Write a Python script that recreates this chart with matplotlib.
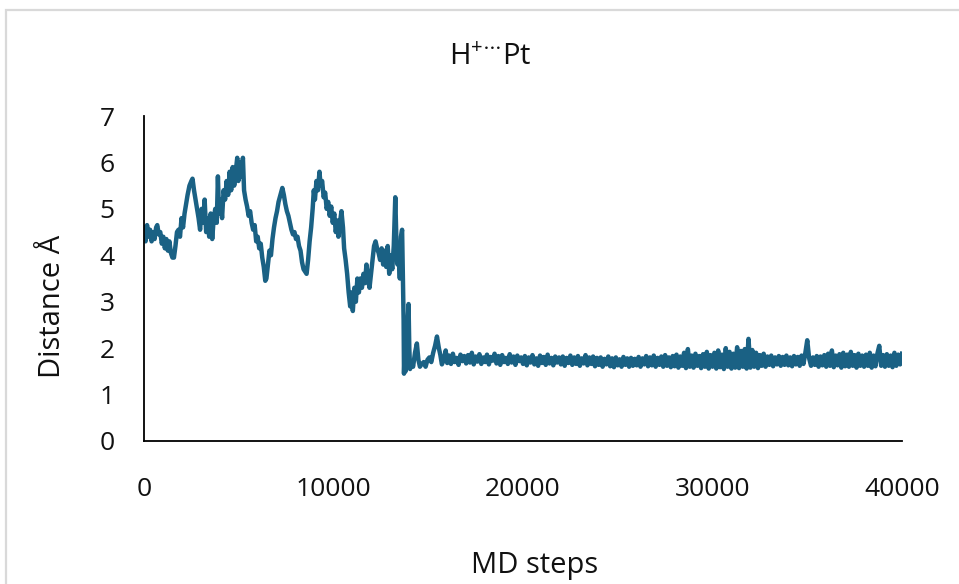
import matplotlib
matplotlib.use("Agg")
import matplotlib.pyplot as plt
from matplotlib.patches import Rectangle

# ---- data (MD step, distance in Å) ----
steps_early = [0, 80, 160, 240, 320, 400, 480, 560, 640, 700, 780, 860, 940, 1020, 1100,
               1180, 1260, 1340, 1420, 1500, 1580, 1660, 1740, 1820, 1900, 1980, 2060, 2140,
               2220, 2300, 2400, 2500, 2560, 2640, 2720, 2800, 2880, 2960, 3040, 3120, 3200,
               3280, 3360, 3440, 3520, 3600, 3680, 3760, 3840, 3900, 3960, 4040, 4120, 4200,
               4280, 4360, 4440, 4520, 4600, 4680, 4760, 4840, 4920, 4980, 5060, 5140, 5220,
               5280, 5360, 5440, 5520, 5600, 5680, 5760, 5840, 5920, 6000, 6080, 6160, 6240,
               6320, 6400, 6460, 6540, 6620, 6700, 6780, 6860, 6940, 7020, 7100, 7200, 7300,
               7380, 7460, 7540, 7620, 7700, 7780, 7860, 7940, 8020, 8100, 8180, 8260, 8340,
               8420, 8500, 8580, 8660, 8740, 8820, 8900, 8960, 9020, 9100, 9180, 9260, 9320,
               9400, 9480, 9560, 9640, 9720, 9800, 9880, 9960, 10040, 10120, 10200, 10260,
               10340, 10420, 10500, 10560, 10640, 10720, 10800, 10880, 10960, 11020, 11100,
               11180, 11260, 11340, 11420, 11500, 11580, 11660, 11740, 11820, 11900, 11980,
               12060, 12140, 12220, 12300, 12380, 12460, 12540, 12620, 12700, 12780, 12860,
               12940, 13020, 13100, 13180, 13260, 13320, 13380, 13440, 13500, 13560, 13620,
               13660, 13700]
dist_early = [4.6, 4.3, 4.65, 4.4, 4.55, 4.3, 4.5, 4.35, 4.6, 4.65, 4.45, 4.5, 4.25, 4.4, 4.15,
              4.35, 4.1, 4.3, 4.05, 3.95, 3.95, 4.2, 4.5, 4.55, 4.4, 4.8, 4.6, 4.9,
              5.1, 5.3, 5.5, 5.6, 5.65, 5.4, 5.2, 5.0, 4.8, 4.55, 5.0, 4.7, 5.2,
              4.5, 4.8, 4.4, 4.9, 4.35, 4.8, 5.0, 4.7, 5.7, 4.9, 5.2, 4.8, 5.4,
              5.2, 5.6, 5.3, 5.8, 5.4, 5.9, 5.5, 5.8, 6.1, 5.6, 6.0, 5.7, 6.1,
              5.4, 5.2, 5.05, 4.85, 4.95, 4.7, 4.55, 4.65, 4.3, 4.4, 4.15, 4.25, 3.95,
              3.75, 3.45, 3.5, 3.8, 4.1, 4.0, 4.35, 4.6, 4.8, 4.95, 5.15, 5.3, 5.45,
              5.3, 5.1, 4.95, 4.85, 4.7, 4.55, 4.45, 4.5, 4.35, 4.4, 4.2, 4.1, 3.85,
              3.7, 3.65, 3.6, 3.9, 4.3, 4.6, 5.0, 5.4, 5.2, 5.6, 5.4, 5.8, 5.5,
              5.6, 5.25, 5.35, 5.0, 5.15, 4.85, 5.05, 4.7, 4.9, 4.5, 4.75, 4.4,
              4.7, 4.95, 4.6, 4.15, 3.9, 3.6, 3.2, 2.9, 3.2, 2.8, 3.3,
              3.0, 3.5, 3.2, 3.5, 3.3, 3.6, 3.4, 3.8, 3.5, 3.3, 3.6,
              3.9, 4.2, 4.3, 4.15, 4.05, 3.9, 4.15, 3.8, 4.1, 3.75, 4.2,
              3.6, 4.0, 3.7, 4.2, 5.25, 4.3, 3.8, 4.0, 3.5, 4.4, 4.55,
              3.5, 2.6]

steps_drop = [13720, 13760, 13800, 13860, 13920, 13960, 14000, 14040, 14120, 14200, 14300,
              14400, 14480, 14560, 14640, 14760, 14860, 14960, 15060, 15160, 15260, 15360,
              15460, 15560, 15640, 15720, 15820, 15920]
dist_drop = [1.45, 2.0, 1.5, 1.9, 2.6, 2.95, 2.0, 1.55, 1.7, 1.6, 1.9,
             2.1, 1.75, 1.6, 1.65, 1.7, 1.6, 1.75, 1.8, 1.7, 1.9, 2.05,
             2.25, 2.0, 1.85, 1.65, 1.75, 1.95]

plateau_start = 16000
plateau_step = 100
dist_plateau = [
    # 16000 - 17900
    1.68, 1.84, 1.66, 1.88, 1.7, 1.79, 1.64, 1.86, 1.72, 1.83, 1.67, 1.85, 1.69, 1.9, 1.65, 1.82, 1.71, 1.87, 1.66, 1.8,
    # 18000 - 19900
    1.7, 1.86, 1.65, 1.81, 1.73, 1.88, 1.67, 1.83, 1.64, 1.85, 1.7, 1.79, 1.66, 1.87, 1.69, 1.82, 1.64, 1.84, 1.72, 1.8,
    # 20000 - 21900
    1.66, 1.83, 1.63, 1.8, 1.69, 1.85, 1.65, 1.78, 1.62, 1.84, 1.68, 1.81, 1.64, 1.86, 1.67, 1.79, 1.63, 1.82, 1.69, 1.8,
    # 22000 - 23900
    1.65, 1.82, 1.62, 1.79, 1.68, 1.84, 1.64, 1.8, 1.66, 1.83, 1.62, 1.78, 1.67, 1.85, 1.63, 1.8, 1.66, 1.82, 1.61, 1.79,
    # 24000 - 25900
    1.64, 1.8, 1.6, 1.77, 1.65, 1.82, 1.61, 1.78, 1.59, 1.8, 1.63, 1.76, 1.6, 1.81, 1.64, 1.78, 1.6, 1.79, 1.62, 1.77,
    # 26000 - 27900
    1.63, 1.81, 1.6, 1.78, 1.65, 1.83, 1.61, 1.8, 1.63, 1.84, 1.6, 1.79, 1.64, 1.82, 1.6, 1.85, 1.62, 1.8, 1.59, 1.83,
    # 28000 - 29900
    1.61, 1.86, 1.58, 1.82, 1.62, 1.9, 1.57, 1.98, 1.6, 1.84, 1.58, 1.88, 1.62, 1.83, 1.57, 1.87, 1.6, 1.92, 1.56, 1.85,
    # 30000 - 31900
    1.6, 1.9, 1.56, 1.95, 1.59, 1.86, 1.55, 2.0, 1.6, 1.92, 1.56, 1.88, 1.58, 2.02, 1.57, 1.94, 1.6, 1.98, 1.56, 2.2,
    # 32000 - 33900
    1.58, 1.96, 1.6, 1.9, 1.57, 1.85, 1.62, 1.88, 1.6, 1.82, 1.64, 1.84, 1.61, 1.8, 1.65, 1.83, 1.62, 1.81, 1.64, 1.84,
    # 34000 - 35900
    1.63, 1.8, 1.61, 1.83, 1.65, 1.81, 1.62, 1.84, 1.66, 1.9, 2.17, 1.78, 1.62, 1.8, 1.64, 1.83, 1.6, 1.82, 1.63, 1.85,
    # 36000 - 37900
    1.6, 1.88, 1.62, 1.95, 1.59, 1.84, 1.63, 1.87, 1.58, 1.9, 1.61, 1.86, 1.6, 1.92, 1.62, 1.85, 1.58, 1.88, 1.62, 1.84,
    # 38000 - 40000
    1.6, 1.86, 1.62, 1.9, 1.58, 1.84, 1.61, 1.88, 2.05, 1.62, 1.85, 1.6, 1.87, 1.62, 1.84, 1.59, 1.9, 1.62, 1.86, 1.65, 1.88,
]
steps_plateau = [plateau_start + plateau_step * i for i in range(len(dist_plateau))]

steps = steps_early + steps_drop + steps_plateau
dist = dist_early + dist_drop + dist_plateau

x_ticks = [0, 10000, 20000, 30000, 40000]
y_ticks = [0, 1, 2, 3, 4, 5, 6, 7]

title = r"H$^{+\cdots}$Pt"
xlabel = "MD steps"
ylabel = "Distance \u00c5"

# ---- figure ----
plt.rcParams["font.family"] = ["Open Sans", "DejaVu Sans"]
plt.rcParams["mathtext.fontset"] = "custom"
plt.rcParams["mathtext.rm"] = "Open Sans"
plt.rcParams["mathtext.it"] = "Open Sans"
plt.rcParams["mathtext.default"] = "regular"
fig = plt.figure(figsize=(9.59, 5.84), dpi=100)
fig.patch.set_facecolor("white")

# light chart-area border (only top and left visible in the reference)
fig.patches.append(Rectangle((6 / 959, -0.2), 1.2, 1.2 - 10 / 584,
                             transform=fig.transFigure, fill=False,
                             edgecolor="#d9d9d9", linewidth=1.6, zorder=0))

ax = fig.add_axes([144 / 959, 1 - 441 / 584, (902 - 144) / 959, (441 - 116) / 584])
ax.plot(steps, dist, color="#1a6184", linewidth=3.2, solid_joinstyle="round")

ax.set_xlim(0, 40000)
ax.set_ylim(0, 7)
ax.set_xticks(x_ticks)
ax.set_yticks(y_ticks)
ax.set_xticklabels([str(v) for v in x_ticks])
ax.set_yticklabels([str(v) for v in y_ticks])
ax.tick_params(axis="both", length=0, labelsize=19, colors="#111111")
ax.tick_params(axis="x", pad=26)
ax.tick_params(axis="y", pad=21)

for side in ("top", "right"):
    ax.spines[side].set_visible(False)
for side in ("left", "bottom"):
    ax.spines[side].set_color("#000000")
    ax.spines[side].set_linewidth(1.3)

fig.text(490 / 959, 1 - 57 / 584, title, ha="center", va="center", fontsize=21, color="#111111")
fig.text(535 / 959, 1 - 566 / 584, xlabel, ha="center", va="center", fontsize=21, color="#111111")
fig.text(53 / 959, 1 - 306 / 584, ylabel, ha="center", va="center", rotation=90,
         fontsize=21, color="#111111")

fig.savefig("out.png", dpi=100, facecolor="white")
